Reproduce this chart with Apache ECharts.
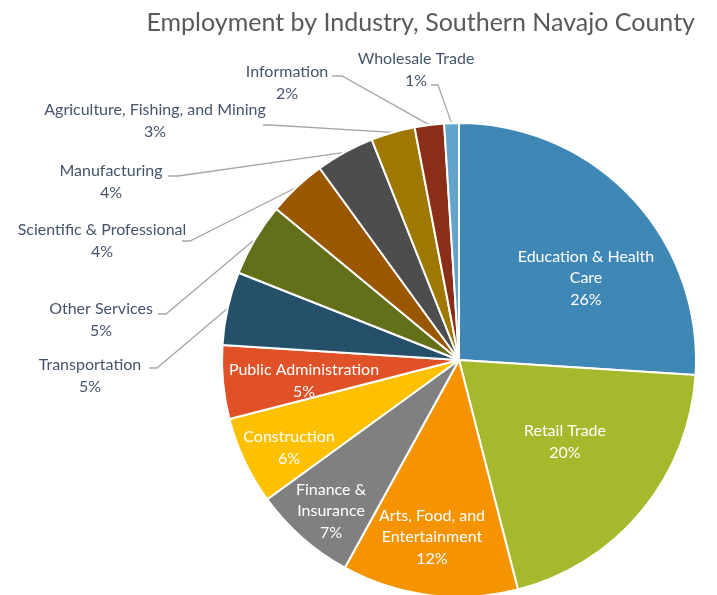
<!DOCTYPE html>
<html>
<head>
<meta charset="utf-8">
<script src="https://cdn.jsdelivr.net/npm/echarts@6/dist/echarts.min.js"></script>
<style>
  html, body { margin: 0; padding: 0; background: #fff; }
  #chart { width: 717px; height: 595px; }
</style>
</head>
<body>
<div id="chart"></div>
<script>
// Employment share by industry (percent of total jobs)
const categories = [
  'Education & Health Care',
  'Retail Trade',
  'Arts, Food, and Entertainment',
  'Finance & Insurance',
  'Construction',
  'Public Administration',
  'Transportation',
  'Other Services',
  'Scientific & Professional',
  'Manufacturing',
  'Agriculture, Fishing, and Mining',
  'Information',
  'Wholesale Trade'
];
const shares = [26, 20, 12, 7, 6, 5, 5, 5, 4, 4, 3, 2, 1];

const sliceColors = [
  '#3F88B5', '#A6B82B', '#F59300', '#808080', '#FFC000', '#E05127', '#264F69',
  '#637019', '#9A5700', '#4D4D4D', '#9E7800', '#8A2E17', '#64A4CC'
];

// Where a long category name wraps onto two lines
const wrapped = {
  'Education & Health Care': 'Education & Health\nCare',
  'Arts, Food, and Entertainment': 'Arts, Food, and\nEntertainment',
  'Finance & Insurance': 'Finance &\nInsurance'
};

// Label placement: centre of each text block; for outside labels also the
// end of the leader line next to the text and its short horizontal run.
const labelSpots = [
  { x: 586, y: 278 },
  { x: 565, y: 442 },
  { x: 432, y: 537 },
  { x: 331, y: 511 },
  { x: 289, y: 448 },
  { x: 304, y: 381 },
  { x: 90, y: 376, end: [149, 368], elbow: [157, 368] },
  { x: 101, y: 320, end: [158, 314], elbow: [166, 314] },
  { x: 102, y: 241, end: [182, 241], elbow: [190, 241] },
  { x: 111, y: 182, end: [168, 176], elbow: [178, 176] },
  { x: 155, y: 121, end: [263, 125], elbow: [270, 125] },
  { x: 287, y: 83, end: [332, 76], elbow: [342, 76] },
  { x: 416, y: 70, end: [431, 85], elbow: [438, 85] }
];

const insideCount = 6;
const textFont = 'Lato, "Open Sans", sans-serif';

const chart = echarts.init(document.getElementById('chart'), null, { renderer: 'canvas' });

const pieData = categories.map((name, i) => {
  const inside = i < insideCount;
  return {
    name: name,
    value: shares[i],
    itemStyle: { color: sliceColors[i] },
    label: {
      position: inside ? 'inside' : 'outside',
      color: inside ? '#FFFFFF' : '#44546A'
    },
    labelLine: { show: !inside }
  };
});

chart.setOption({
  animation: false,
  title: {
    text: 'Employment by Industry, Southern Navajo County',
    right: 17,
    top: 5,
    textStyle: {
      fontFamily: textFont,
      fontWeight: 'normal',
      fontSize: 25,
      color: '#595959'
    }
  },
  series: [{
    type: 'pie',
    center: [459, 360],
    radius: 237,
    startAngle: 90,
    clockwise: true,
    avoidLabelOverlap: false,
    itemStyle: { borderColor: '#FFFFFF', borderWidth: 2 },
    label: {
      show: true,
      fontFamily: textFont,
      fontSize: 16,
      lineHeight: 21.5,
      align: 'center',
      formatter: p => (wrapped[p.name] || p.name) + '\n' + p.value + '%'
    },
    labelLine: {
      show: true,
      lineStyle: { color: '#A6A6A6', width: 1.3 }
    },
    labelLayout: params => {
      const spot = labelSpots[params.dataIndex];
      const out = { x: spot.x, y: spot.y, align: 'center', verticalAlign: 'middle' };
      if (spot.end && params.labelLinePoints) {
        out.labelLinePoints = [params.labelLinePoints[0], spot.elbow, spot.end];
      }
      return out;
    },
    data: pieData
  }]
});
</script>
</body>
</html>
